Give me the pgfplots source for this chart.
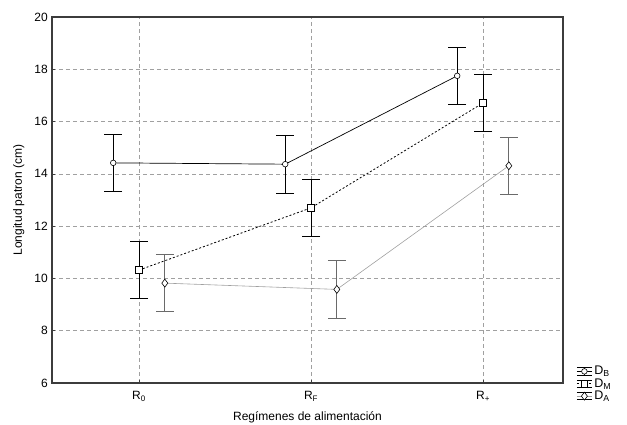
\documentclass[border=0pt]{standalone}
\usepackage{fontspec}
\setmainfont{Liberation Sans}
\usepackage{pgfplots}
\pgfplotsset{compat=1.18}
\definecolor{axisgray}{HTML}{3C3C3C}
\definecolor{gridgray}{HTML}{A0A0A0}
\definecolor{dagray}{HTML}{6A6A6A}
\definecolor{dalgray}{HTML}{A0A0A0}
\begin{document}
\fontsize{12}{14}\selectfont
\begin{tikzpicture}
\begin{axis}[
  name=ax,
  scale only axis,
  width=511pt, height=366pt,
  xmin=-0.506, xmax=2.465,
  ymin=6, ymax=20,
  xtick={0,1,2},
  xticklabels={R\textsubscript{0},R\textsubscript{F},R\textsubscript{+}},
  ytick={6,8,...,20},
  /pgf/number format/assume math mode=true,
  tick label style={font=\fontsize{12}{14}\selectfont},
  xticklabel style={yshift=-4pt},
  label style={font=\fontsize{12}{14}\selectfont},
  xlabel={Regímenes de alimentación},
  ylabel={Longitud patron (cm)},
  xlabel style={yshift=-2.5pt},
  ylabel style={yshift=2pt},
  axis line style={axisgray, line width=1.1pt},
  tick align=inside,
  xtick pos=bottom, ytick pos=left,
  major tick length=3pt,
  major tick style={axisgray, line width=0.6pt},
  ymajorgrids, xmajorgrids,
  grid style={gridgray, dash pattern=on 4pt off 3pt, line width=0.6pt},
  legend style={at={(1.026,0.052)}, anchor=north west, draw=none, fill=none,
    font=\fontsize{12.5}{13}\selectfont, row sep=-2pt, inner sep=0pt},
  legend cell align=left,
  legend image code/.code={
    \draw[black, line width=0.6pt, solid] (0pt,3.6pt)--(15pt,3.6pt) (0pt,-3.6pt)--(15pt,-3.6pt) (7.5pt,-3.6pt)--(7.5pt,3.6pt);
    \draw[mark repeat=2, mark phase=2, #1] plot coordinates {(0pt,0pt) (7.5pt,0pt) (15pt,0pt)};
  },
]
% D_B: circles, solid
\addplot[black, line width=0.7pt, mark=*, mark size=2.8pt,
  mark options={solid, fill=white, draw=black, line width=0.6pt},
  error bars/.cd, y dir=both, y explicit,
  error bar style={black, line width=0.7pt, solid},
  error mark options={rotate=90, mark size=9pt, line width=0.7pt, black}]
  coordinates {(-0.15,14.42) +- (0,1.10) (0.85,14.37) +- (0,1.10) (1.85,17.75) +- (0,1.10)};
\addlegendentry{D\textsubscript{B}}
% D_M: squares, dashed
\addplot[black, line width=0.8pt, dash pattern=on 2pt off 2pt, mark=square*, mark size=3.3pt,
  mark options={solid, fill=white, draw=black, line width=0.6pt},
  error bars/.cd, y dir=both, y explicit,
  error bar style={black, line width=0.7pt, solid},
  error mark options={rotate=90, mark size=9pt, line width=0.7pt, black, solid}]
  coordinates {(0,10.32) +- (0,1.10) (1,12.70) +- (0,1.10) (2,16.71) +- (0,1.10)};
\addlegendentry{D\textsubscript{M}}
% D_A: diamonds, gray thin
\addplot[dalgray, line width=0.6pt, mark=diamond*, mark size=4pt,
  mark options={solid, fill=white, draw=black, line width=0.6pt},
  error bars/.cd, y dir=both, y explicit,
  error bar style={dagray, line width=0.9pt, solid},
  error mark options={rotate=90, mark size=9pt, line width=0.9pt, dagray, solid}]
  coordinates {(0.15,9.82) +- (0,1.09) (1.15,9.58) +- (0,1.10) (2.15,14.31) +- (0,1.10)};
\addlegendentry{D\textsubscript{A}}
\end{axis}
\pgfresetboundingbox
\path[use as bounding box] ([shift={(-52pt,-42pt)}]ax.south west) rectangle ([shift={(64pt,17pt)}]ax.north east);
\end{tikzpicture}
\end{document}
